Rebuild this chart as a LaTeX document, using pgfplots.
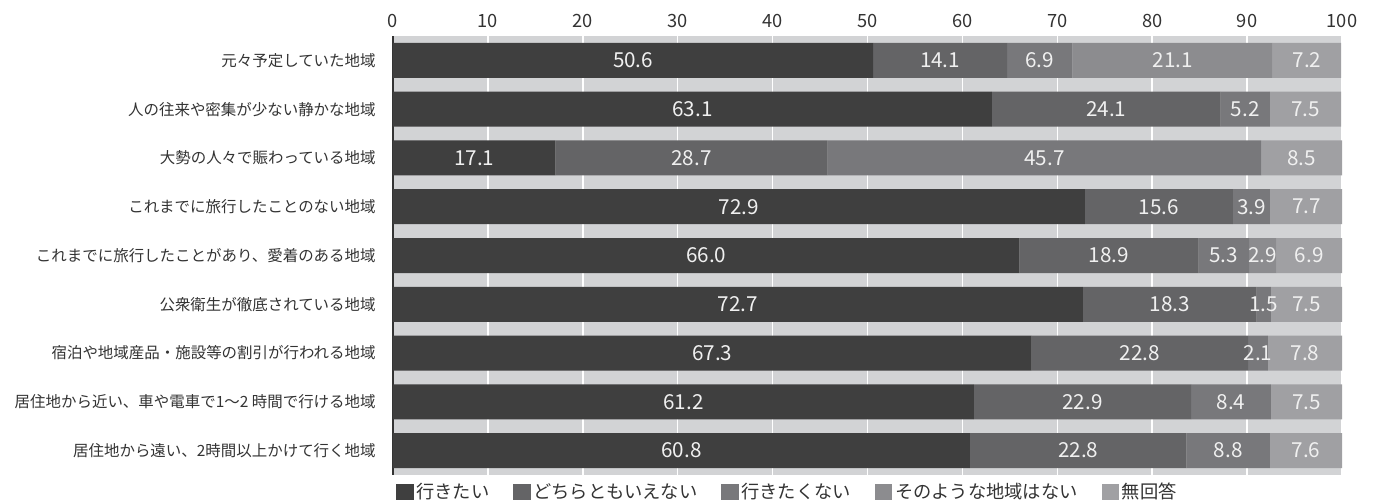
\documentclass[border=0pt]{standalone}
\usepackage{pgfplots}
\pgfplotsset{compat=1.18}
\usepackage{pgfplotstable}
\usepackage{fontspec}
\setmainfont{Noto Sans CJK JP}
\definecolor{c1}{HTML}{3F3F3F}
\definecolor{c2}{HTML}{646466}
\definecolor{c3}{HTML}{78787B}
\definecolor{c4}{HTML}{8C8C8F}
\definecolor{c5}{HTML}{A0A0A3}
\definecolor{cbg}{HTML}{D2D3D5}
\definecolor{ctxt}{HTML}{333333}

\pgfplotstableread{
id a b c d e
0 50.6 14.1 6.9 21.1 7.2
1 63.1 24.1 5.2 0 7.5
2 17.1 28.7 45.7 0 8.5
3 72.9 15.6 3.9 0 7.7
4 66.0 18.9 5.3 2.9 6.9
5 72.7 18.3 1.5 0 7.5
6 67.3 22.8 2.1 0 7.8
7 61.2 22.9 8.4 0 7.5
8 60.8 22.8 8.8 0 7.6
}\data

\pgfplotsset{
  seg/.style={fill=#1, draw=none},
  common/.style={scale only axis, width=711.75pt, height=329.25pt,
    xmin=0, xmax=100, ymin=-0.5, ymax=8.5, y dir=reverse,
    at={(0pt,0pt)}, anchor=south west},
  lab/.style={scatter, only marks, mark=none, point meta=explicit symbolic,
    scatter/@pre marker code/.code={%
      \ifdim\pgfplotspointmeta pt>0.05pt
        \node[anchor=center, inner sep=0pt, font=\fontsize{15.5}{16}\selectfont, text=white!94!black] at (0,0) {\pgfplotspointmeta};%
      \fi},
    scatter/@post marker code/.code={}},
}

\begin{document}
\begin{tikzpicture}
\path[use as bounding box] (-294.75pt,-21pt) rectangle (740.25pt,356.25pt);
\begin{axis}[
  common,
  xbar stacked, bar width=26.25pt,
  axis background/.style={fill=cbg},
  axis x line*=top, axis y line*=left,
  x axis line style={draw=none,-},
  y axis line style={draw=ctxt,line width=1.2pt,-},
  xtick={0,10,...,100},
  ytick={0,...,8},
  yticklabels={元々予定していた地域,人の往来や密集が少ない静かな地域,大勢の人々で賑わっている地域,これまでに旅行したことのない地域,これまでに旅行したことがあり、愛着のある地域,公衆衛生が徹底されている地域,宿泊や地域産品・施設等の割引が行われる地域,居住地から近い、車や電車で1～2 時間で行ける地域,居住地から遠い、2時間以上かけて行く地域},
  major tick length=0pt,
  xmajorgrids, grid style={white, line width=1.1pt},
  /pgf/number format/assume math mode=true,
  xticklabel style={font=\fontsize{13.7}{14}\selectfont, text=ctxt, yshift=2.5pt},
  yticklabel style={font=\fontsize{11.6}{12}\selectfont, text=ctxt, xshift=-9.5pt},
  legend columns=5,
  legend style={at={(0.416,-0.012)}, anchor=north, draw=none, fill=none,
    font=\fontsize{13.7}{14}\selectfont, text=ctxt, inner sep=0pt,
    /tikz/every even column/.append style={column sep=16pt}},
  legend image code/.code={\fill[#1] (0pt,-6.3pt) rectangle (13pt,6.3pt);},
]
\addplot[seg=c1] table[x=a, y=id] {\data};
\addplot[seg=c2] table[x=b, y=id] {\data};
\addplot[seg=c3] table[x=c, y=id] {\data};
\addplot[seg=c4] table[x=d, y=id] {\data};
\addplot[seg=c5] table[x=e, y=id] {\data};
\legend{行きたい,どちらともいえない,行きたくない,そのような地域はない,無回答}
\end{axis}
\begin{axis}[common, axis lines=none, ticks=none]
\addplot[lab] table[x expr=\thisrow{a}/2, y expr=\thisrow{id}-0.5, meta=a] {\data};
\addplot[lab] table[x expr=\thisrow{a}+\thisrow{b}/2, y expr=\thisrow{id}-0.5, meta=b] {\data};
\addplot[lab] table[x expr=\thisrow{a}+\thisrow{b}+\thisrow{c}/2, y expr=\thisrow{id}-0.5, meta=c] {\data};
\addplot[lab] table[x expr=\thisrow{a}+\thisrow{b}+\thisrow{c}+\thisrow{d}/2, y expr=\thisrow{id}-0.5, meta=d] {\data};
\addplot[lab] table[x expr=\thisrow{a}+\thisrow{b}+\thisrow{c}+\thisrow{d}+\thisrow{e}/2, y expr=\thisrow{id}-0.5, meta=e] {\data};
\end{axis}
\end{tikzpicture}
\end{document}
